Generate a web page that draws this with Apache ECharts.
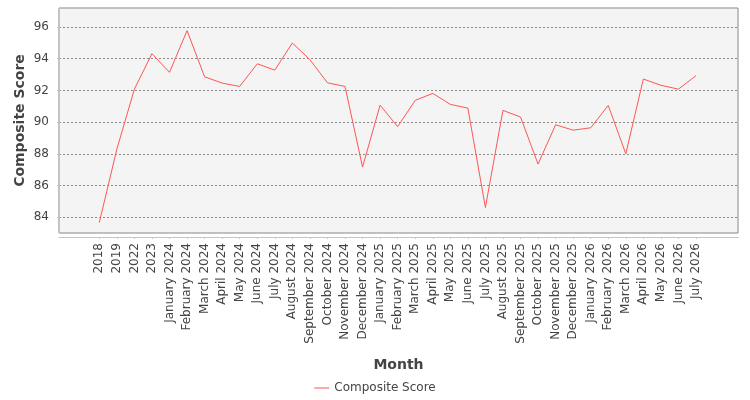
<!DOCTYPE html>
<html>
<head>
<meta charset="utf-8">
<script src="https://cdn.jsdelivr.net/npm/echarts@6/dist/echarts.min.js"></script>
<style>html,body{margin:0;padding:0;background:#fff;}#c{width:750px;height:400px;}</style>
</head>
<body>
<div id="c"></div>
<script>
const categories = ["2018","2019","2022","2023","January 2024","February 2024","March 2024","April 2024","May 2024","June 2024","July 2024","August 2024","September 2024","October 2024","November 2024","December 2024","January 2025","February 2025","March 2025","April 2025","May 2025","June 2025","July 2025","August 2025","September 2025","October 2025","November 2025","December 2025","January 2026","February 2026","March 2026","April 2026","May 2026","June 2026","July 2026"];
const compositeScore = [83.66,88.29,92.08,94.32,93.14,95.77,92.86,92.46,92.25,93.68,93.28,94.99,93.94,92.48,92.25,87.16,91.07,89.71,91.37,91.81,91.12,90.88,84.61,90.74,90.32,87.35,89.83,89.49,89.64,91.05,88.0,92.72,92.32,92.08,92.93];
const yTicks = [84,86,88,90,92,94,96];
const seriesName = "Composite Score";
const xTitle = "Month";
const yTitle = "Composite Score";

const FONT = "DejaVu Sans";
const chart = echarts.init(document.getElementById('c'), null, {renderer:'canvas'});
const yMin = 83, yMax = 97.2;
chart.setOption({
  animation:false,
  textStyle:{fontFamily:FONT},
  grid:[
    {left:59, top:8, width:679, height:225, show:true, backgroundColor:'#f4f4f4', borderColor:'#888', borderWidth:1, containLabel:false, outerBoundsMode:'none'},
    {left:99.3, top:8, width:596.7, height:225, show:false, containLabel:false, outerBoundsMode:'none'}
  ],
  legend:{
    bottom:1, left:'center', itemWidth:15, itemHeight:8, icon:'path://M0,4 L15,4 L15,5 L0,5 Z',
    textStyle:{fontFamily:FONT, fontSize:12, color:'#444'},
    data:[seriesName]
  },
  xAxis:[
    {gridIndex:0, type:'value', min:0, max:1, offset:4,
     axisLine:{show:true, lineStyle:{color:'#c4c4c4'}}, axisTick:{show:false}, axisLabel:{show:false}, splitLine:{show:false},
     name:xTitle, nameLocation:'middle', nameGap:121,
     nameTextStyle:{fontFamily:FONT, fontSize:14, fontWeight:'bold', color:'#444'}},
    {gridIndex:1, type:'category', data:categories, boundaryGap:false, offset:4,
     axisLine:{show:false}, axisTick:{show:true, length:2, alignWithLabel:true, lineStyle:{color:'#c4c4c4'}},
     axisLabel:{rotate:90, interval:0, fontSize:12, color:'#444', margin:6, fontFamily:FONT},
     splitLine:{show:false}}
  ],
  yAxis:[
    {gridIndex:0, type:'value', min:yMin, max:yMax, offset:4,
     axisLine:{show:true, lineStyle:{color:'#c4c4c4'}},
     axisTick:{show:true, length:2, customValues:yTicks, lineStyle:{color:'#c4c4c4'}},
     axisLabel:{customValues:yTicks, fontSize:12, color:'#444', margin:6, fontFamily:FONT},
     splitLine:{show:true, lineStyle:{color:'#8a8a8a', type:[2,2], width:1}},
     name:yTitle, nameLocation:'middle', nameGap:28, nameMoveOverlap:false,
     nameTextStyle:{fontFamily:FONT, fontSize:14, fontWeight:'bold', color:'#444'}},
    {gridIndex:1, type:'value', min:yMin, max:yMax, show:false}
  ],
  series:[{
    name:seriesName, type:'line', xAxisIndex:1, yAxisIndex:1,
    data:compositeScore, symbol:'none', lineStyle:{color:'#ff5555', width:1}, itemStyle:{color:'#ff5555'}
  }]
});
</script>
</body>
</html>
